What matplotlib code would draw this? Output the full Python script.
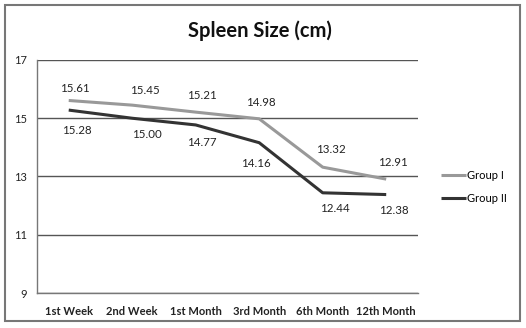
import matplotlib
matplotlib.use('Agg')
import matplotlib.pyplot as plt
from matplotlib.patches import Rectangle

categories = ['1st Week', '2nd Week', '1st Month', '3rd Month', '6th Month', '12th Month']
group1 = [15.61, 15.45, 15.21, 14.98, 13.32, 12.91]
group2 = [15.28, 15.00, 14.77, 14.16, 12.44, 12.38]
yticks = [9, 11, 13, 15, 17]

# label offsets in pixels (dx, dy) so the numbers stay clear of the lines
g1_offsets = [(6, 12), (13, 15), (6, 17), (2, 16), (8, 18), (7, 17)]
g2_offsets = [(8, -20), (15, -16), (6, -18), (-3, -21), (12, -16), (8, -16)]

plt.rcParams['font.family'] = ['Lato', 'DejaVu Sans']

fig = plt.figure(figsize=(5.26, 3.28), dpi=100)
ax = fig.add_axes([0.0703, 0.1067, 0.7243, 0.7104])

x = list(range(len(categories)))
l1, = ax.plot(x, group1, color='#999999', lw=2.2, solid_capstyle='butt', label='Group I')
l2, = ax.plot(x, group2, color='#333333', lw=2.2, solid_capstyle='butt', label='Group II')

px = 72 / fig.dpi
for xi, v, (dx, dy) in zip(x, group1, g1_offsets):
    ax.annotate(f'{v:.2f}', (xi, v), xytext=(dx * px, dy * px), textcoords='offset points',
                ha='center', va='center', fontsize=8.3, color='#222222')
for xi, v, (dx, dy) in zip(x, group2, g2_offsets):
    ax.annotate(f'{v:.2f}', (xi, v), xytext=(dx * px, dy * px), textcoords='offset points',
                ha='center', va='center', fontsize=8.3, color='#222222')

ax.set_xlim(-0.5, len(categories) - 0.5)
ax.set_ylim(9, 17)
ax.set_yticks(yticks)
ax.set_xticks(x)
ax.set_xticklabels(categories, fontsize=8, fontweight='bold')
ax.tick_params(axis='both', length=0, labelsize=8, colors='#222222')
ax.tick_params(axis='x', pad=9)
ax.tick_params(axis='y', pad=7)
ax.grid(axis='y', color='#555555', lw=1.0)
ax.set_axisbelow(True)
for side in ['top', 'right']:
    ax.spines[side].set_visible(False)
for side in ['left', 'bottom']:
    ax.spines[side].set_color('#777777')
    ax.spines[side].set_linewidth(1.0)

fig.text(0.494, 0.905, 'Spleen Size (cm)', ha='center', va='center',
         fontsize=14.5, fontweight='bold', color='#111111')

fig.legend(handles=[l1, l2], loc='center left', bbox_to_anchor=(0.82, 0.43),
           frameon=False, fontsize=8, handlelength=2.2, handletextpad=0.1,
           labelspacing=1.1)

fig.patches.append(Rectangle((0.01, 0.02), 0.978, 0.965, transform=fig.transFigure,
                             fill=False, edgecolor='#777777', lw=1.5))

fig.savefig('out.png', dpi=100)
